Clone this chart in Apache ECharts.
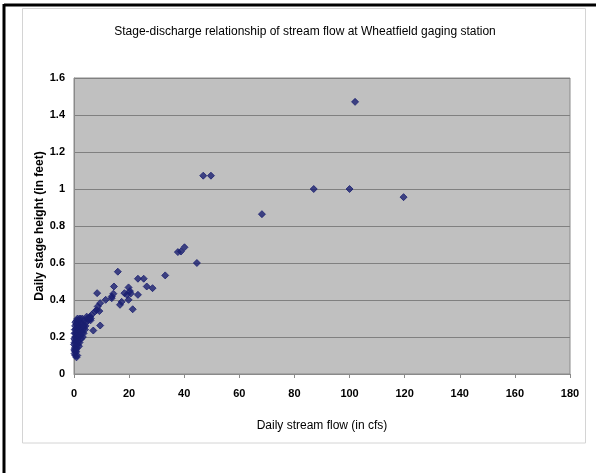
<!DOCTYPE html>
<html>
<head>
<meta charset="utf-8">
<script src="https://cdn.jsdelivr.net/npm/echarts@6/dist/echarts.min.js"></script>
<style>html,body{margin:0;padding:0;background:#fff;}#c{width:596px;height:473px;}</style>
</head>
<body>
<div id="c"></div>
<script>
var titleText = 'Stage-discharge relationship of stream flow at Wheatfield gaging station';
var xName = 'Daily stream flow (in cfs)';
var yName = 'Daily stage height (in feet)';
var xTicks = [0, 20, 40, 60, 80, 100, 120, 140, 160, 180];
var yTicks = [0, 0.2, 0.4, 0.6, 0.8, 1, 1.2, 1.4, 1.6];

// daily stream flow (cfs)
var flow = [
  0.2, 0.5, 0.8, 0.3, 0.6, 1.0, 0.2, 0.5, 0.9, 1.3,
  0.1, 0.4, 0.8, 1.2, 1.6, 0.2, 0.6, 1.0, 1.4, 1.8,
  2.2, 0.3, 0.7, 1.1, 1.5, 1.9, 2.4, 0.4, 0.8, 1.2,
  1.7, 2.1, 2.7, 3.2, 0.5, 1.0, 1.5, 2.0, 2.5, 3.0,
  3.6, 1.3, 2.2, 3.0, 3.8, 4.5, 4.8, 5.5, 6.0, 1.8,
  2.0, 2.6, 3.2, 3.5, 4.0, 4.2, 0.0, 0.1, 0.9, 1.2,
  5.2, 5.8, 3.4, 4.6, 2.8, 0.4, 0.7,
  6.4, 6.1, 7.0, 7.6, 8.2, 8.6, 8.4, 9.2, 9.5, 9.5,
  11.5, 13.7, 13.7, 14.3, 14.5, 15.9, 16.7, 17.3, 18.3, 19.2,
  19.8, 19.8, 20.3, 20.6, 21.3, 23.2, 23.2, 25.3, 26.4, 28.5,
  33.1, 37.7, 38.8, 40.1, 44.6, 46.9, 49.7, 68.2, 87, 100,
  102, 119.6
];
// daily stage height (ft)
var stage = [
  0.11, 0.10, 0.12, 0.14, 0.15, 0.14, 0.17, 0.18, 0.17, 0.16,
  0.19, 0.20, 0.20, 0.19, 0.18, 0.22, 0.22, 0.22, 0.21, 0.20,
  0.21, 0.24, 0.24, 0.25, 0.24, 0.23, 0.23, 0.26, 0.27, 0.27,
  0.26, 0.26, 0.25, 0.24, 0.28, 0.29, 0.28, 0.29, 0.28, 0.27,
  0.26, 0.30, 0.30, 0.30, 0.29, 0.28, 0.30, 0.30, 0.29, 0.15,
  0.17, 0.19, 0.20, 0.22, 0.24, 0.26, 0.16, 0.13, 0.09, 0.10,
  0.29, 0.31, 0.26, 0.31, 0.22, 0.12, 0.13,
  0.32, 0.30, 0.235, 0.338, 0.345, 0.365, 0.437, 0.34, 0.262, 0.383,
  0.401, 0.41, 0.419, 0.434, 0.473, 0.553, 0.374, 0.39, 0.437, 0.428,
  0.468, 0.401, 0.448, 0.435, 0.35, 0.428, 0.515, 0.515, 0.473, 0.464,
  0.533, 0.659, 0.662, 0.685, 0.60, 1.072, 1.072, 0.864, 1.0, 1.0,
  1.471, 0.956
];

var pts = flow.map(function (f, i) { return [f, stage[i]]; });

var chart = echarts.init(document.getElementById('c'), null, {renderer: 'canvas'});
var lbl = {color: '#000', fontFamily: 'Liberation Sans, Arial, sans-serif', fontSize: 11, fontWeight: 'bold'};
chart.setOption({
  animation: false,
  backgroundColor: '#fff',
  title: {
    text: titleText, left: 300, textAlign: 'center', top: 21,
    textStyle: {fontFamily: 'Liberation Sans, Arial, sans-serif', fontSize: 12, fontWeight: 'normal', color: '#000'}
  },
  graphic: [
    {type: 'rect', shape: {x: 22.5, y: 8.5, width: 563, height: 434.5}, style: {fill: 'none', stroke: '#d4d4d4', lineWidth: 1}, z: 0},
    {type: 'line', shape: {x1: 4, y1: 5, x2: 596, y2: 5}, style: {stroke: '#000', lineWidth: 3}, z: 10},
    {type: 'line', shape: {x1: 4, y1: 4, x2: 4, y2: 473}, style: {stroke: '#000', lineWidth: 3}, z: 10}
  ],
  grid: {
    left: 74, right: 26, top: 78, bottom: 99,
    show: true, backgroundColor: '#c0c0c0', borderColor: '#8a8a8a', borderWidth: 1
  },
  xAxis: {
    type: 'value', min: xTicks[0], max: xTicks[xTicks.length - 1], interval: 20,
    name: xName, nameLocation: 'middle', nameGap: 46, nameMoveOverlap: false,
    nameTextStyle: {color: '#000', fontFamily: 'Liberation Sans, Arial, sans-serif', fontSize: 12},
    axisLine: {show: true, lineStyle: {color: '#8a8a8a'}},
    axisTick: {show: true, length: 4, inside: false, lineStyle: {color: '#8a8a8a'}},
    axisLabel: Object.assign({margin: 14}, lbl),
    splitLine: {show: false}
  },
  yAxis: {
    type: 'value', min: yTicks[0], max: yTicks[yTicks.length - 1], interval: 0.2,
    name: yName, nameLocation: 'middle', nameGap: 28, nameMoveOverlap: false,
    nameTextStyle: {color: '#000', fontFamily: 'Liberation Sans, Arial, sans-serif', fontSize: 12, fontWeight: 'bold'},
    axisLine: {show: true, lineStyle: {color: '#8a8a8a'}},
    axisTick: {show: false},
    axisLabel: Object.assign({margin: 9}, lbl),
    splitLine: {show: true, lineStyle: {color: '#808080', width: 1}}
  },
  series: [{
    type: 'scatter', data: pts, symbol: 'diamond', symbolSize: 7,
    itemStyle: {color: '#1a1f70', borderColor: '#1a1f70', borderWidth: 1}
  }]
});
</script>
</body>
</html>
